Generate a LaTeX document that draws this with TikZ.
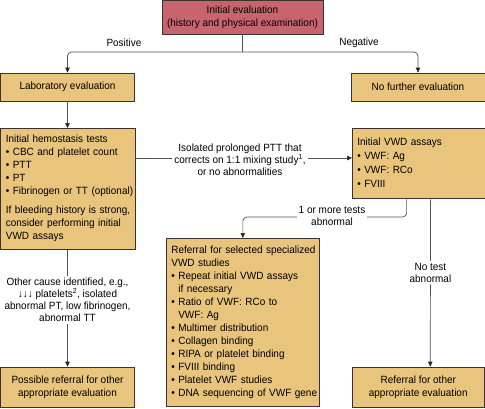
\documentclass[tikz,border=0pt]{standalone}
\usepackage{fontspec}
\setmainfont{Liberation Sans}[FakeStretch=0.95]
\usepackage{xcolor}
\usetikzlibrary{arrows.meta,positioning,calc}
\definecolor{evalred}{HTML}{C8646D}
\definecolor{evaltan}{HTML}{E8C47C}
\definecolor{boxline}{HTML}{3A3330}
\definecolor{connline}{HTML}{505050}
\newcommand{\bgap}{\hphantom{\textbullet\ }}
\newcommand{\lines}[1]{\begin{tabular}{@{}l@{}}#1\end{tabular}}

\begin{document}
\begin{tikzpicture}[
  x=1pt, y=-1pt,
  box/.style={rectangle, draw=boxline, fill=#1, line width=0.7pt,
              inner xsep=5pt, inner ysep=3pt,
              font=\fontsize{10.5}{13}\selectfont},
  box/.default=evaltan,
  listbox/.style={box, align=left, anchor=north west},
  note/.style={font=\fontsize{10.5}{12}\selectfont, align=center, inner sep=2pt},
  conn/.style={draw=connline, line width=0.7pt, rounded corners=4pt},
  arr/.style={conn, -{Triangle[length=5pt, width=4.5pt, color=black!85]}},
]
\useasboundingbox (0,0) rectangle (485,408);

% Top of the chart
\node[box=evalred, minimum width=159pt, minimum height=34pt, align=center] (init) at (242.5,17)
  {Initial evaluation\\(history and physical examination)};
\node[box, minimum width=134pt, minimum height=28pt] (lab) at (67.5,87) {Laboratory evaluation};
\node[box, minimum width=134pt, minimum height=28pt] (nofur) at (418,87) {No further evaluation};

\coordinate (split) at (242.5,52);
\draw[conn] (init.south) -- (split);
\draw[arr] (split) -| (lab.north);
\draw[arr] (split) -| (nofur.north);
\node[note] (pos) at (124,43) {Positive};
\node[note] (neg) at (359,43) {Negative};

% Test boxes
\node[listbox, text width=124pt, minimum height=121pt] (hemo) at (0.5,128) {\lines{
  Initial hemostasis tests\\
  \textbullet\ CBC and platelet count\\
  \textbullet\ PTT\\
  \textbullet\ PT\\
  \textbullet\ Fibrinogen or TT (optional)\\[6pt]
  If bleeding history is strong,\\
  consider performing initial\\
  VWD assays}
};
\node[listbox, text width=122.5pt, minimum height=70pt,
      font=\fontsize{10.5}{14}\selectfont] (vwd) at (352,128) {\lines{
  Initial VWD assays\\
  \textbullet\ VWF: Ag\\
  \textbullet\ VWF: RCo\\
  \textbullet\ FVIII}
};
\node[listbox, text width=143pt, minimum height=168pt] (refsel) at (166,238) {\lines{
  Referral for selected specialized\\
  VWD studies\\
  \textbullet\ Repeat initial VWD assays\\
  \bgap if necessary\\
  \textbullet\ Ratio of VWF: RCo to\\
  \bgap VWF: Ag\\
  \textbullet\ Multimer distribution\\
  \textbullet\ Collagen binding\\
  \textbullet\ RIPA or platelet binding\\
  \textbullet\ FVIII binding\\
  \textbullet\ Platelet VWF studies\\
  \textbullet\ DNA sequencing of VWF gene}
};

% Bottom boxes
\node[box, minimum width=134pt, minimum height=40pt, align=center] (possref) at (67.5,387)
  {Possible referral for other\\appropriate evaluation};
\node[box, minimum width=132.5pt, minimum height=40pt, align=center] (othref) at (418.25,387)
  {Referral for other\\appropriate evaluation};

% Arrows
\draw[arr] (lab) -- (hemo.north -| lab);
\coordinate (mixrow) at (0,158);
\draw[arr] (hemo.east |- mixrow) -- (vwd.west |- mixrow);
\node[note, fill=white] (mixlbl) at (240,160)
  {Isolated prolonged PTT that\\corrects on 1:1 mixing study\textsuperscript{1},\\or no abnormalities};

\draw[arr] ([xshift=-12pt]vwd.south) |- ([yshift=21pt]refsel.north) -- (refsel.north);
\node[note, fill=white] (abnlbl) at (332,216) {1 or more tests\\abnormal};

\draw[arr] ([xshift=12pt]vwd.south) -- node[note, fill=white, pos=0.44] (notestlbl)
  {No test\\abnormal} ([xshift=12pt]othref.north);

\draw[arr] (hemo.south -| possref) -- node[note, fill=white, pos=0.43] (otherlbl)
  {Other cause identified, e.g.,\\
   ↓↓↓ platelets\textsuperscript{2}, isolated\\
   abnormal PT, low fibrinogen,\\
   abnormal TT} (possref);

\end{tikzpicture}
\end{document}
